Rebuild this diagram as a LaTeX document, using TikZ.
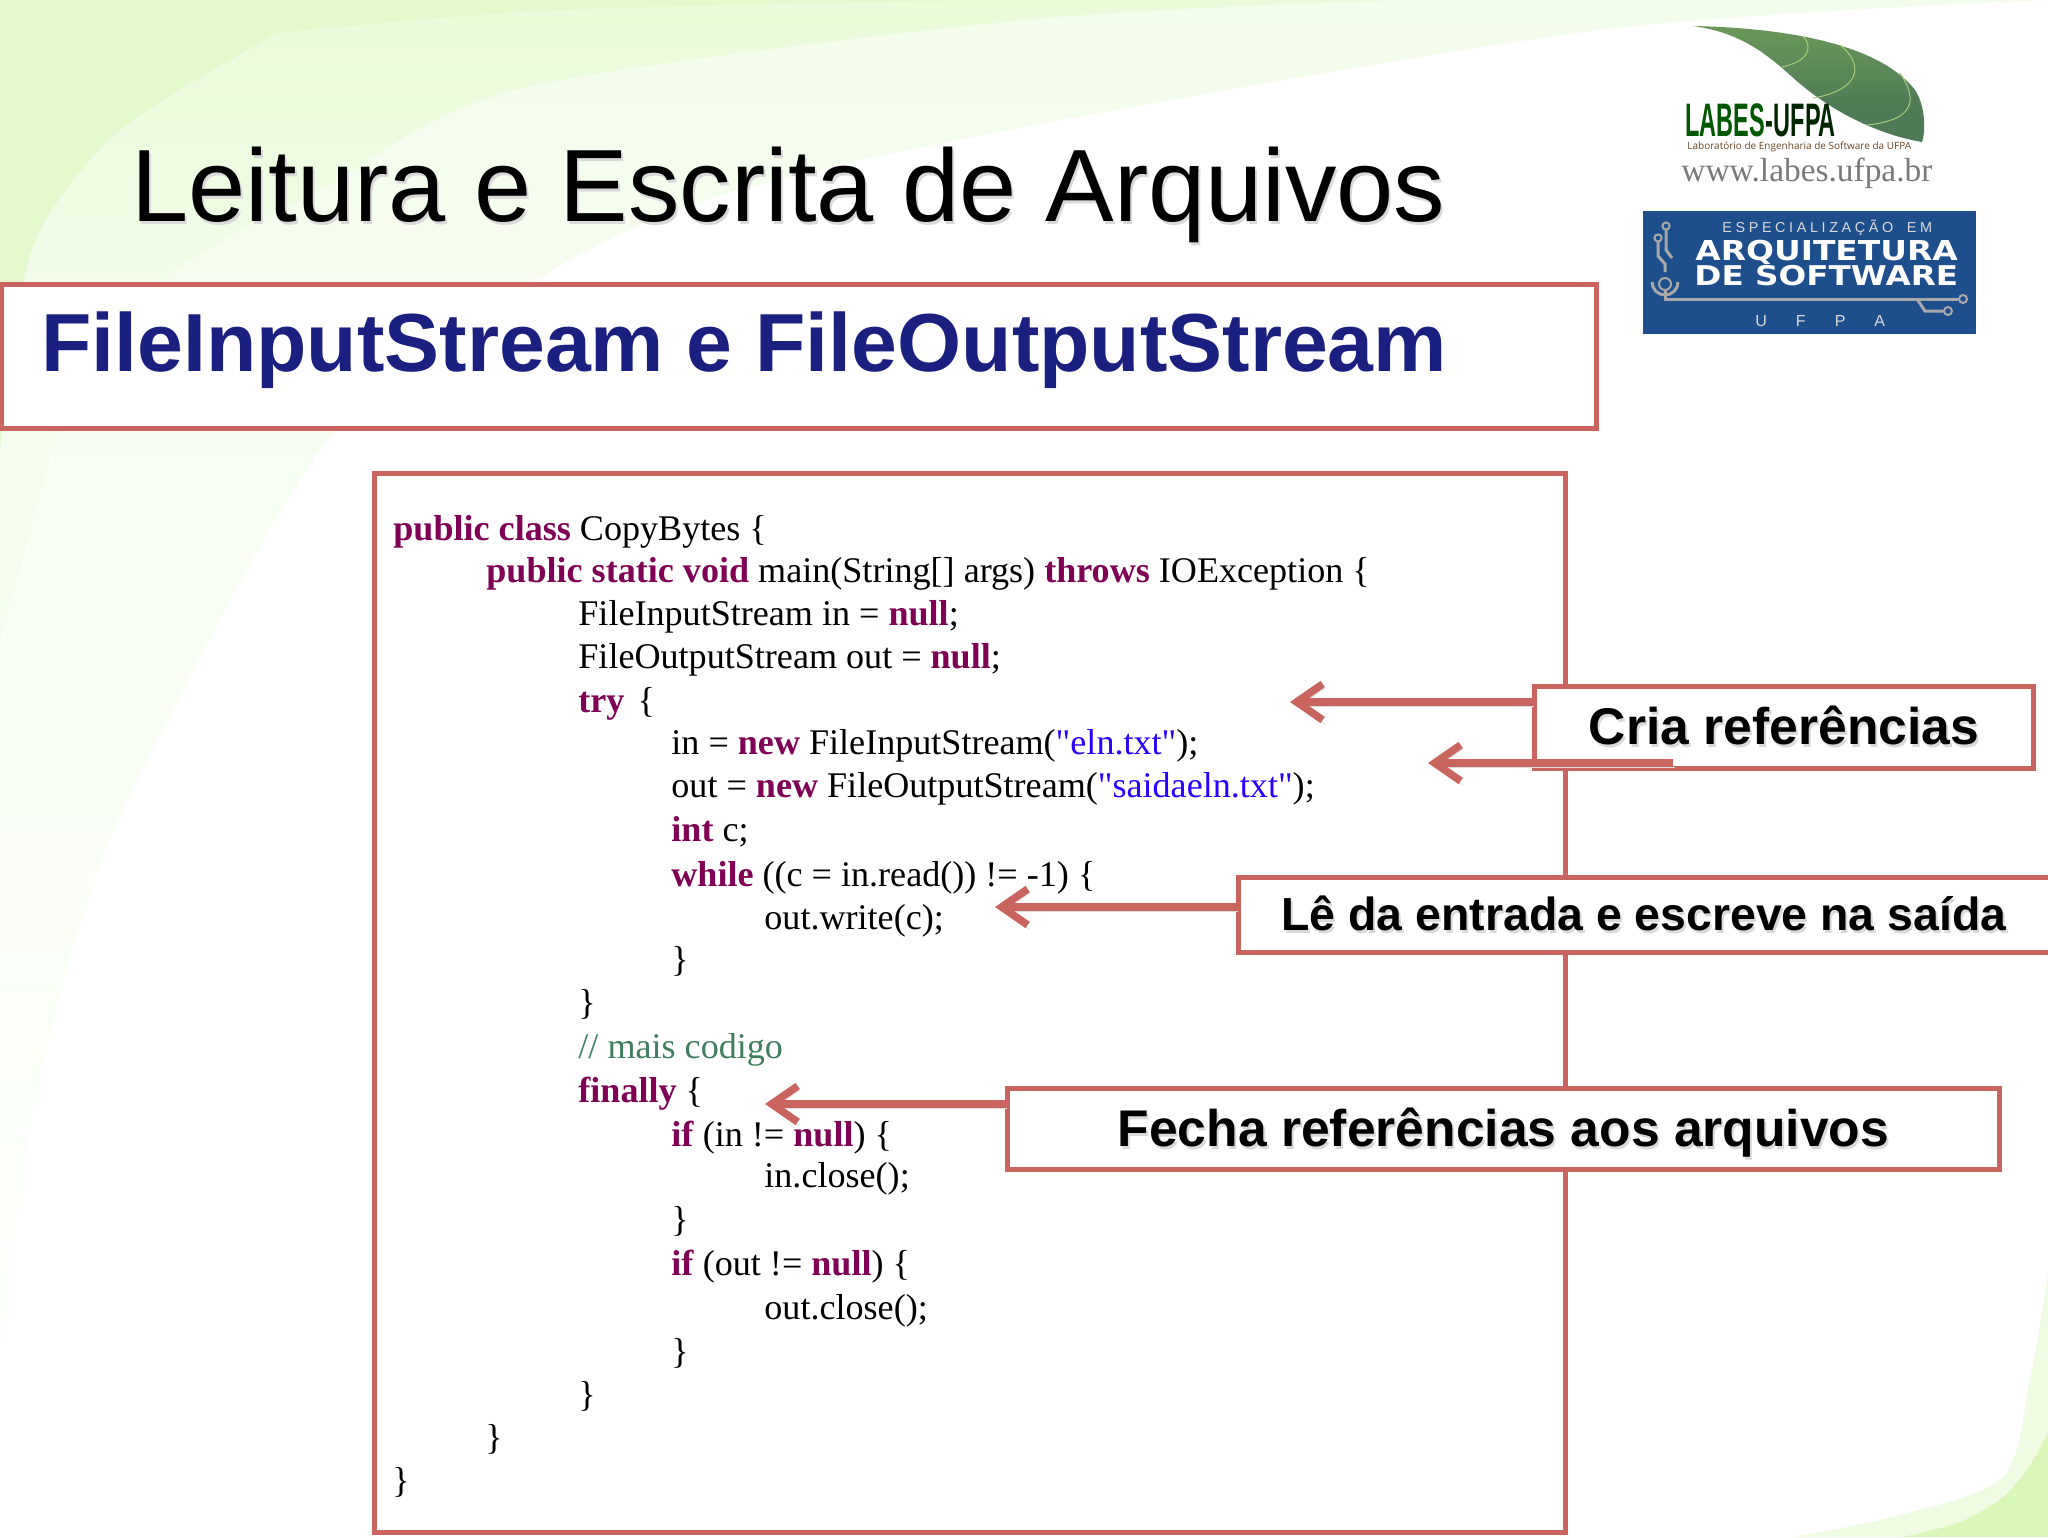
\documentclass[tikz,border=0pt]{standalone}
\usepackage{fontspec}
\usepackage{tikz}
\usetikzlibrary{arrows.meta,positioning,calc}
\setmainfont{Liberation Sans}
\newfontfamily\codefont{Liberation Serif}
\newfontfamily\labesfont[FakeStretch=0.5]{Liberation Sans}
\newfontfamily\labsubfont{Open Sans}
\newfontfamily\widefont[FakeStretch=1.2]{DejaVu Sans}
\definecolor{boxred}{HTML}{C9645F}
\definecolor{navytext}{HTML}{1B1F80}
\definecolor{keyword}{HTML}{7F0055}
\definecolor{strlit}{HTML}{2A00FF}
\definecolor{remark}{HTML}{3F7F5F}
\definecolor{bgA}{HTML}{EAFBD9}
\definecolor{bgB}{HTML}{F5FDEE}
\definecolor{bgC}{HTML}{FCFFFA}
\definecolor{bgdeep}{HTML}{E3F9CD}
\definecolor{bgmid}{HTML}{E9FBD9}
\definecolor{cornerpale}{HTML}{F0FBE3}
\definecolor{cornerdeep}{HTML}{DAF6BA}
\definecolor{leaftop}{HTML}{7FAD5C}
\definecolor{leaflow}{HTML}{4E7A56}
\definecolor{veinc}{HTML}{A9CB7C}
\definecolor{blueplate}{HTML}{1F4E8C}
\definecolor{tracegray}{HTML}{A8A8A8}
\pgfdeclareverticalshading{bgfade}{100bp}{color(0bp)=(white); color(30bp)=(bgC); color(70bp)=(bgB); color(100bp)=(bgA)}
\pgfdeclareverticalshading{midfade}{100bp}{color(0bp)=(bgB); color(45bp)=(bgB); color(75bp)=(bgmid); color(100bp)=(bgmid)}
\pgfdeclareverticalshading{leaffade}{100bp}{color(0bp)=(leaflow); color(40bp)=(leaflow); color(100bp)=(leaftop)}
\newcommand{\kw}[1]{\textcolor{keyword}{\textbf{#1}}}
\newcommand{\strl}[1]{\textcolor{strlit}{#1}}
\newcommand{\softtext}[1]{\leavevmode\rlap{\raisebox{-1.5pt}{\hspace{1pt}\textcolor{black!15}{#1}}}#1}
\tikzset{
    box/.style={rectangle,draw=boxred,line width=2.5pt,fill=white,inner sep=0pt},
    callout/.style={box,font=\fontsize{25.8pt}{30pt}\selectfont\bfseries,text=black},
    codeline/.style={anchor=base west,inner sep=0pt,font=\codefont\fontsize{18.05pt}{22pt}\selectfont},
    pointer/.style={draw=boxred,line width=3.8pt,-{Straight Barb[length=13pt,width=18pt]},
        preaction={draw=black!14,-{Straight Barb[length=13pt,width=18pt]},transform canvas={xshift=1pt,yshift=-2pt}}},
    trace/.style={draw=tracegray,line width=1.5pt},
}
\begin{document}
\begin{tikzpicture}[x=0.5pt,y=-0.5pt]
    \useasboundingbox (0,0) rectangle (2048,1537);
    \fill[white] (0,0) rectangle (2048,1537);

    % background swooshes
    \path[shading=bgfade] plot[smooth] coordinates {(0,1356) (33,1111) (83,915) (143,768) (327,441) (536,280) (719,196) (1024,127) (1600,30) (2048,0)} -- (0,0) -- cycle;
    \path[shading=midfade] plot[smooth] coordinates {(1400,0) (1024,20) (523,88) (327,186) (163,280) (60,420)} -- (0,640) -- (0,0) -- cycle;
    \fill[bgdeep] plot[smooth] coordinates {(275,34) (120,130) (40,230) (15,330) (0,450)} -- (0,0) -- cycle;
    \fill[bgdeep] plot[smooth] coordinates {(307,30) (560,10) (980,0)} -- (0,0) -- (0,60) -- cycle;
    \fill[cornerpale] plot[smooth] coordinates {(1793,1537) (1900,1515) (2003,1477) (2030,1380) (2048,1273)} -- (2048,1537) -- cycle;
    \fill[cornerdeep] plot[smooth] coordinates {(1903,1537) (1960,1522) (2003,1497) (2030,1465) (2048,1433)} -- (2048,1537) -- cycle;

    % leaf of the logo
    \path[shading=leaffade] (1693,26) .. controls (1790,28) and (1880,45) .. (1915,90)
        .. controls (1925,105) and (1926,130) .. (1922,142)
        .. controls (1880,135) and (1830,112) .. (1790,75)
        .. controls (1760,48) and (1735,32) .. (1693,26) -- cycle;
    \draw[veinc,line width=0.5pt] (1803,36) .. controls (1815,50) and (1805,62) .. (1782,67);
    \draw[veinc,line width=0.5pt] (1840,45) .. controls (1865,65) and (1860,90) .. (1813,98);
    \draw[veinc,line width=0.5pt] (1900,73) .. controls (1918,100) and (1915,120) .. (1867,125);
    \node[anchor=base west,inner sep=0pt,text=green!35!black,font=\labesfont\fontsize{23.5pt}{26pt}\selectfont\bfseries] (labes) at (1685,136) {LABES};
    \node[anchor=base west,inner sep=0pt,text=black!85!green,font=\labesfont\fontsize{23.5pt}{26pt}\selectfont\bfseries] (ufpa) at (labes.base east) {-UFPA};
    \node[anchor=base west,inner sep=0pt,text=black!45!brown,font=\labsubfont\fontsize{5pt}{6pt}\selectfont] (labsub) at (1687,149) {Laboratório de Engenharia de Software da UFPA};
    \node[anchor=base west,inner sep=0pt,text=black!52,font=\codefont\fontsize{16.7pt}{20pt}\selectfont] (site) at (1681,181) {www.labes.ufpa.br};

    % blue plate
    \fill[blueplate] (1643,211) rectangle (1976,334);
    \draw[trace] (1666,230) -- (1666,250) -- (1672,258);
    \draw[trace] (1658,242) -- (1658,256) -- (1665,264) -- (1665,272);
    \draw[trace] (1665,290) -- (1665,299) -- (1958,299);
    \draw[trace] (1917,299) -- (1925,311) -- (1944,311);
    \draw[trace] (1652,282) arc (180:0:13);
    \draw[trace,line width=1pt] (1666,226) circle (1.8pt) (1658,238) circle (1.8pt) (1665,284) circle (3pt) (1963,299) circle (2pt) (1948,311) circle (2pt);
    \node[anchor=base west,inner sep=0pt,text=black!15!white,font=\fontsize{7.2pt}{9pt}\selectfont\addfontfeature{LetterSpace=25}] (espec) at (1722,232) {ESPECIALIZAÇÃO\hspace{3pt} EM};
    \node[anchor=base west,inner sep=0pt,text=white,font=\widefont\fontsize{13.7pt}{15pt}\selectfont\bfseries] (arq) at (1695,260) {ARQUITETURA};
    \node[anchor=base west,inner sep=0pt,text=white,font=\widefont\fontsize{13.6pt}{15pt}\selectfont\bfseries] (soft) at (1694,285) {DE SOFTWARE};
    \node[anchor=base west,inner sep=0pt,text=black!15!white,font=\fontsize{8pt}{10pt}\selectfont] (ufpb) at (1755,326) {U\hspace{14.5pt}F\hspace{14.5pt}P\hspace{14.5pt}A};

    % title and subtitle
    \node[anchor=base west,inner sep=0pt,font=\fontsize{51.4pt}{60pt}\selectfont] (title) at (131,221) {\softtext{Leitura e Escrita de Arquivos}};
    \node[box,minimum width=797.5pt,minimum height=72pt] (subbox) at (798.5,356) {};
    \node[anchor=base west,inner sep=0pt,text=navytext,font=\fontsize{41.2pt}{48pt}\selectfont\bfseries] (subtitle) at (41,371) {FileInputStream e FileOutputStream};

    % the code
    \node[box,minimum width=595.5pt,minimum height=529.5pt] (codebox) at (969.5,1002.5) {};
    \node[codeline] (l1) at (393,540) {\kw{public class} CopyBytes \{};
    \node[codeline] (l2) at (486,582) {\kw{public static void} main(String[] args) \kw{throws} IOException \{};
    \node[codeline] (l3) at (578,625) {FileInputStream in = \kw{null};};
    \node[codeline] (l4) at (578,668) {FileOutputStream out = \kw{null};};
    \node[codeline] (l5) at (578,712) {\kw{try} \hspace{2pt}\{};
    \node[codeline] (l6) at (671,754) {in = \kw{new} FileInputStream(\strl{"eln.txt"});};
    \node[codeline] (l7) at (671,797) {out = \kw{new} FileOutputStream(\strl{"saidaeln.txt"});};
    \node[codeline] (l8) at (671,841) {\kw{int} c;};
    \node[codeline] (l9) at (671,886) {\kw{while} ((c = in.read()) != -1) \{};
    \node[codeline] (l10) at (764,929) {out.write(c);};
    \node[codeline] (l11) at (671,971) {\}};
    \node[codeline] (l12) at (578,1014) {\}};
    \node[codeline,text=remark] (l13) at (578,1058) {// mais codigo};
    \node[codeline] (l14) at (578,1102) {\kw{finally} \{};
    \node[codeline] (l15) at (671,1146) {\kw{if} (in != \kw{null}) \{};
    \node[codeline] (l16) at (764,1187) {in.close();};
    \node[codeline] (l17) at (671,1231) {\}};
    \node[codeline] (l18) at (671,1275) {\kw{if} (out != \kw{null}) \{};
    \node[codeline] (l19) at (764,1319) {out.close();};
    \node[codeline] (l20) at (671,1363) {\}};
    \node[codeline] (l21) at (578,1406) {\}};
    \node[codeline] (l22) at (485,1449) {\}};
    \node[codeline] (l23) at (392,1492) {\}};

    % callouts
    \node[callout,minimum width=249.5pt,minimum height=41pt] (cria) at (1784,727) {\softtext{Cria referências}};
    \node[callout,font=\fontsize{23.2pt}{28pt}\selectfont\bfseries,minimum width=406pt,minimum height=37.5pt] (le) at (1644,914.5) {\softtext{Lê da entrada e escreve na saída}};
    \node[callout,minimum width=496pt,minimum height=40.5pt] (fecha) at (1503.5,1128.5) {\raisebox{-8.75pt}[0pt][0pt]{\softtext{Fecha referências aos arquivos}}};

    \coordinate (tipa) at (1290,702);
    \coordinate (tipb) at (1428,763);
    \coordinate (tailb) at (1673,763);
    \coordinate (tipc) at (995,907);
    \coordinate (tipd) at (765,1104);
    \draw[pointer] (cria.west |- tipa) -- (tipa);
    \draw[pointer] (tailb) -- (tipb);
    \draw[pointer] (le.west |- tipc) -- (tipc);
    \draw[pointer] (fecha.west |- tipd) -- (tipd);
\end{tikzpicture}
\end{document}
